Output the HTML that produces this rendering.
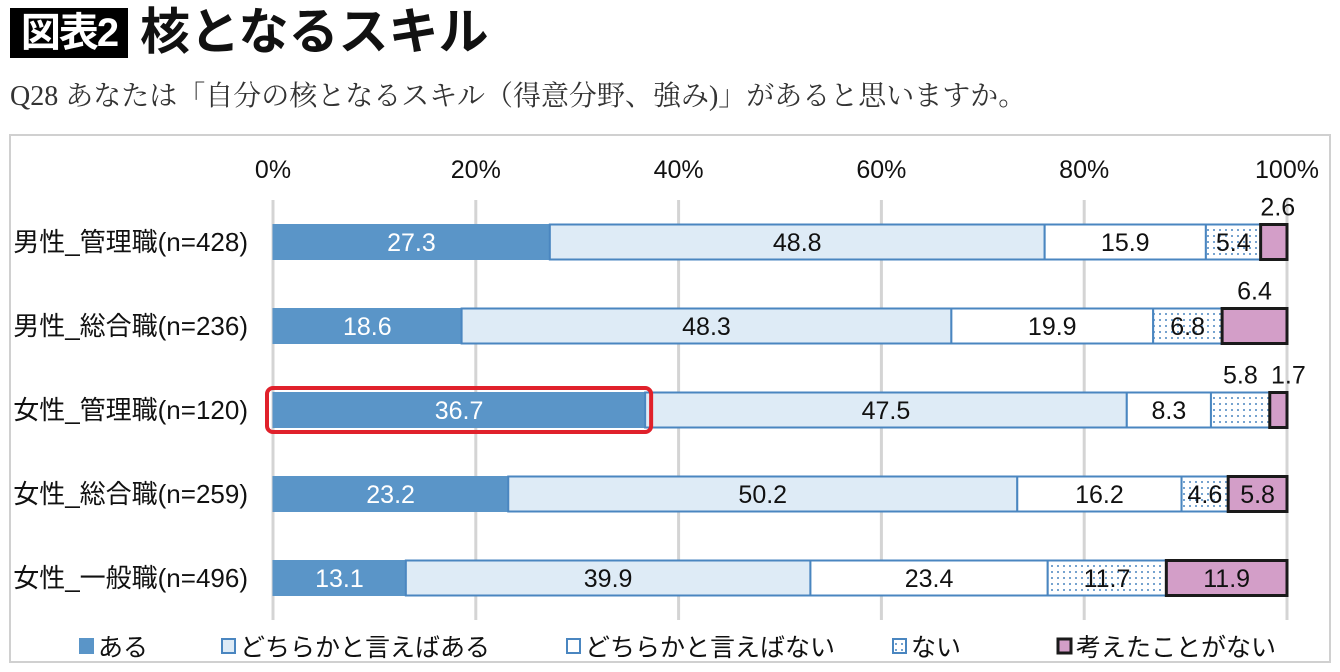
<!DOCTYPE html>
<html><head><meta charset="utf-8">
<style>
html,body{margin:0;padding:0;background:#fff;}
body{width:1340px;height:672px;overflow:hidden;position:relative;font-family:"Liberation Sans Narrow","Liberation Sans","Noto Sans CJK JP",sans-serif;}
#title-box{position:absolute;left:10px;top:8px;width:118px;height:50px;background:#000;color:#fff;font-weight:bold;font-size:40px;line-height:50px;text-align:center;letter-spacing:-2px;}
#title{position:absolute;left:140px;top:2px;font-size:50px;font-weight:bold;line-height:60px;color:#111;}
#subtitle{position:absolute;left:10px;top:74px;font-family:"Liberation Serif","Noto Serif CJK SC",serif;font-size:28px;color:#333;white-space:nowrap;}
svg{position:absolute;left:0;top:0;}
</style></head><body>
<div id="title-box">図表2</div>
<div id="title">核となるスキル</div>
<div id="subtitle">Q28 あなたは「自分の核となるスキル（得意分野、強み)」があると思いますか。</div>
<svg id="chart" width="1340" height="672">
<defs>
<pattern id="dots" width="6" height="6" patternUnits="userSpaceOnUse"><rect width="6" height="6" fill="#fff"/><circle cx="2" cy="2" r="1" fill="#4a86c0"/></pattern>
</defs>
<rect x="10" y="135" width="1320" height="527" fill="none" stroke="#d0d0d0" stroke-width="2"/>
</svg>
<script>
const categories=["男性_管理職(n=428)","男性_総合職(n=236)","女性_管理職(n=120)","女性_総合職(n=259)","女性_一般職(n=496)"];
const sAru=[27.3,18.6,36.7,23.2,13.1];
const sDochiAru=[48.8,48.3,47.5,50.2,39.9];
const sDochiNai=[15.9,19.9,8.3,16.2,23.4];
const sNai=[5.4,6.8,5.8,4.6,11.7];
const sNever=[2.6,6.4,1.7,5.8,11.9];
const seriesNames=["ある","どちらかと言えばある","どちらかと言えばない","ない","考えたことがない"];
const ticks=[0,20,40,60,80,100];
const highlightRow=2;

const NS="http://www.w3.org/2000/svg";
const svg=document.getElementById('chart');
const x0=273,x1=1287,yTop=200,yBot=620,row0=242,rowStep=84,bh=35;
const xs=v=>x0+(x1-x0)*v/100;
const yc=i=>row0+i*rowStep;
function mk(tag,attrs,parent){const e=document.createElementNS(NS,tag);for(const k in attrs)e.setAttribute(k,attrs[k]);(parent||svg).appendChild(e);return e;}
const styles=[
 {fill:"#5a95c8",stroke:"#5a95c8",sw:1,tc:"#fff"},
 {fill:"#deebf6",stroke:"#4a86c0",sw:2,tc:"#111"},
 {fill:"#ffffff",stroke:"#4a86c0",sw:2,tc:"#111"},
 {fill:"url(#dots)",stroke:"#4a86c0",sw:2,tc:"#111"},
 {fill:"#d39ec8",stroke:"#1a1a1a",sw:3,tc:"#111"}];
const series=[sAru,sDochiAru,sDochiNai,sNai,sNever];
ticks.forEach(t=>{
 const l=mk('line',{x1:xs(t),x2:xs(t),y1:yTop,y2:yBot,stroke:"#d4d4d4","stroke-width":3});
 
 
 const tx=mk('text',{x:xs(t),y:178,"text-anchor":"middle","font-size":25,fill:"#111"});
 tx.textContent=t+"%";
 
 
});
categories.forEach((c,i)=>{
 const y=yc(i);
 const lab=mk('text',{x:248,y:y+9,"text-anchor":"end","font-size":26,fill:"#111"});
 lab.textContent=c;
 
 
 let cum=0;
 const neverAbove=i<3;
 const naiAbove=sNever[i]<2;
 series.forEach((s,j)=>{
  const v=s[i],st=styles[j];
  const r=mk('rect',{x:xs(cum),y:y-bh/2,width:xs(cum+v)-xs(cum),height:bh,fill:st.fill,stroke:st.stroke,"stroke-width":st.sw});
  
  
  const t=mk('text',{"text-anchor":"middle","font-size":25,fill:st.tc});
  const above=(j===4&&neverAbove)||(j===3&&naiAbove);
  if(above){
   let dx=0;
   if(j===4&&sNever[i]<2)dx=10;
   if(j===4&&sNever[i]>=2&&sNever[i]<4)dx=4;
   t.setAttribute('x',xs(cum+v/2)+dx);t.setAttribute('y',y-bh/2-9);t.setAttribute('fill','#111');
  }else{t.setAttribute('x',xs(cum+v/2));t.setAttribute('y',y+9);}
  t.textContent=v.toFixed(1);
  
  
  cum+=v;
 });
});
const hl=mk('rect',{x:x0-6,y:yc(highlightRow)-22,width:xs(sAru[highlightRow])-x0+12,height:44,rx:6,fill:"none",stroke:"#e0212b","stroke-width":4});


const lx=[80,222,567,893,1058];
seriesNames.forEach((n,j)=>{
 const st=styles[j];
 const g=mk('g',{});
 
 
 mk('rect',{x:lx[j],y:639,width:13,height:14,fill:st.fill,stroke:st.stroke,"stroke-width":j===4?3:2},g);
 const t=mk('text',{x:lx[j]+18,y:656,"font-size":25,fill:"#111"},g);
 t.textContent=n;
});
</script>
</body></html>
